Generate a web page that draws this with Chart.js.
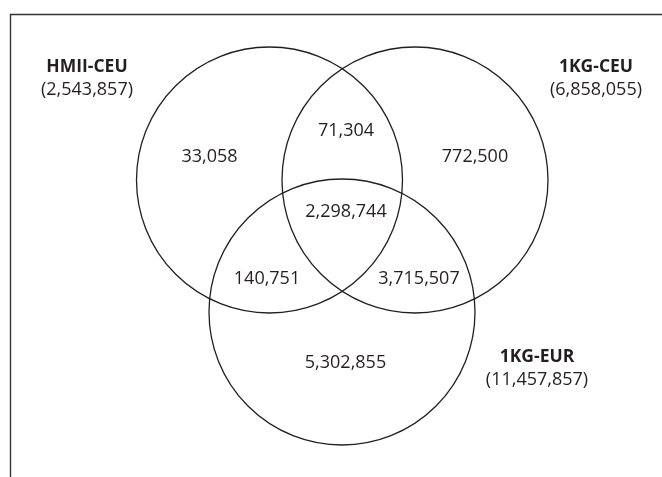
<!DOCTYPE html>
<html><head><meta charset="utf-8">
<script src="https://cdn.jsdelivr.net/npm/chart.js@4"></script>
<style>html,body{margin:0;padding:0;background:#fff;overflow:hidden}</style>
</head><body>
<canvas id="c" width="662" height="477"></canvas>
<script>
// ---- data ----
const setNames = ['HMII-CEU', '1KG-CEU', '1KG-EUR'];
const setTotals = [2543857, 6858055, 11457857];
const regionNames = ['HMII-CEU only', 'HMII∩1KG-CEU', '1KG-CEU only', 'All three', 'HMII∩1KG-EUR', '1KG-CEU∩1KG-EUR', '1KG-EUR only'];
const regionCounts = [33058, 71304, 772500, 2298744, 140751, 3715507, 5302855];

// ---- layout (plot units) ----
const circleX = [269.5, 415, 342];
const circleY = [180, 180, 312];
const circleR = 133;
const regionX = [209.5, 346, 475, 346, 267, 419, 345.5];
const regionY = [157, 131, 157, 212, 279, 279, 363];
const setLabelX = [87, 596, 537];
const setLabelY = [67, 67, 357];
const totalOffset = 23;

const ink = '#231f20';
const fam = '"Open Sans", "Noto Sans", sans-serif';
const fmt = v => v.toLocaleString('en-US');

const labelPlugin = {
  id: 'venn',
  beforeDraw(chart) {
    const ctx = chart.ctx;
    ctx.save();
    ctx.fillStyle = '#fff';
    ctx.fillRect(0, 0, chart.width, chart.height);
    ctx.strokeStyle = '#333';
    ctx.lineWidth = 1.4;
    ctx.beginPath();
    ctx.moveTo(10.5, chart.height);
    ctx.lineTo(10.5, 14.5);
    ctx.lineTo(chart.width, 14.5);
    ctx.stroke();
    ctx.restore();
  },
  afterDatasetsDraw(chart) {
    const ctx = chart.ctx, sx = chart.scales.x, sy = chart.scales.y;
    ctx.save();
    ctx.fillStyle = ink;
    ctx.textAlign = 'center';
    ctx.textBaseline = 'middle';
    ctx.font = '18px ' + fam;
    regionCounts.forEach((v, i) => {
      ctx.fillText(fmt(v), sx.getPixelForValue(regionX[i]), sy.getPixelForValue(regionY[i]));
    });
    setNames.forEach((n, i) => {
      const x = sx.getPixelForValue(setLabelX[i]);
      ctx.font = 'bold 17.5px ' + fam;
      ctx.fillText(n, x, sy.getPixelForValue(setLabelY[i]));
      ctx.font = '18px ' + fam;
      ctx.fillText('(' + fmt(setTotals[i]) + ')', x, sy.getPixelForValue(setLabelY[i] + totalOffset));
    });
    ctx.restore();
  }
};

new Chart(document.getElementById('c'), {
  type: 'bubble',
  data: {
    datasets: [{
      label: 'sets',
      data: setNames.map((n, i) => ({ x: circleX[i], y: circleY[i], r: circleR })),
      backgroundColor: 'rgba(0,0,0,0)',
      borderColor: ink,
      borderWidth: 1.3,
      hoverRadius: 0
    }]
  },
  options: {
    responsive: false,
    devicePixelRatio: 1,
    animation: false,
    clip: false,
    layout: { padding: 0, autoPadding: false },
    plugins: { legend: { display: false }, tooltip: { enabled: false } },
    events: [],
    scales: {
      x: { type: 'linear', min: 0, max: 662, display: false },
      y: { type: 'linear', min: 0, max: 477, reverse: true, display: false }
    }
  },
  plugins: [labelPlugin]
});
</script>
</body></html>
